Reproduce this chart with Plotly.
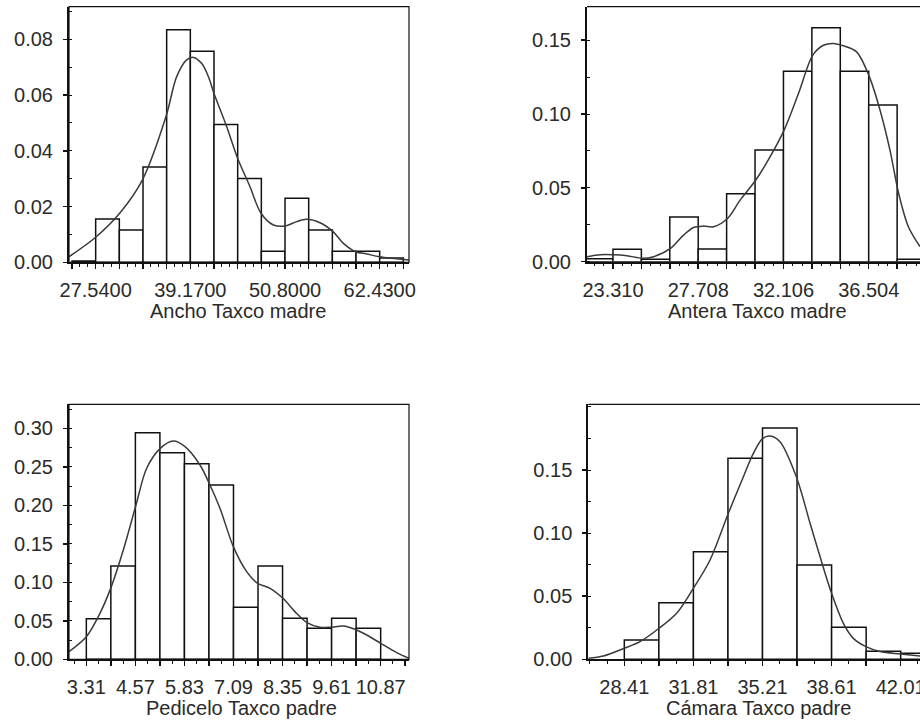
import plotly.graph_objects as go

W, H = 920, 721

# ---------------- data ----------------
# Panel 1: Ancho Taxco madre
anc_edge0 = 24.6325
anc_bw = 2.9075
anc_heights = [0.0005, 0.0155, 0.0116, 0.0342, 0.0834, 0.0757, 0.0494,
               0.0301, 0.0040, 0.0230, 0.0116, 0.0040, 0.0040, 0.0015]
anc_curve_x = [24.26, 27.54, 30.49, 33.27, 36.18, 37.49, 38.72, 39.54, 40.60,
               41.40, 42.08, 43.63, 44.90, 46.50, 47.85, 49.37, 50.80, 52.23,
               53.46, 55.10, 56.70, 57.97, 59.48, 60.83, 62.43, 66.03]
anc_curve_y = [0.0020, 0.0090, 0.0176, 0.0295, 0.0523, 0.0666, 0.0726, 0.0735,
               0.0712, 0.0665, 0.0606, 0.0487, 0.0379, 0.0271, 0.0176, 0.0134,
               0.0130, 0.0146, 0.0154, 0.0142, 0.0110, 0.0068, 0.0038, 0.0030,
               0.0020, 0.0008]
anc_tickvals = [27.54, 39.17, 50.80, 62.43]
anc_ticktext = ["27.5400", "39.1700", "50.8000", "62.4300"]
anc_yticks = [0.0, 0.02, 0.04, 0.06, 0.08]

# Panel 2: Antera Taxco madre
ant_edge0 = 21.844
ant_bw = 1.466
ant_heights = [0.0020, 0.0084, 0.0016, 0.0302, 0.0086, 0.0461, 0.0757,
               0.1289, 0.1584, 0.1289, 0.1061, 0.0016]
ant_curve_x = [21.97, 22.66, 23.31, 24.03, 24.84, 25.41, 26.28, 26.95, 27.47,
               27.98, 28.50, 29.22, 29.87, 30.68, 31.42, 32.14, 32.88, 33.62,
               34.17, 34.68, 35.20, 35.88, 36.54, 37.09, 37.60, 38.05, 38.55,
               39.15]
ant_curve_y = [0.0034, 0.0047, 0.0047, 0.0041, 0.0023, 0.0034, 0.0090, 0.0180,
               0.0232, 0.0241, 0.0237, 0.0293, 0.0417, 0.0553, 0.0711, 0.0891,
               0.1139, 0.1399, 0.1466, 0.1478, 0.1462, 0.1421, 0.1252, 0.1026,
               0.0756, 0.0462, 0.0237, 0.0102]
ant_tickvals = [23.310, 27.708, 32.106, 36.504]
ant_ticktext = ["23.310", "27.708", "32.106", "36.504"]
ant_yticks = [0.0, 0.05, 0.10, 0.15]

# Panel 3: Pedicelo Taxco padre
ped_edge0 = 3.31
ped_bw = 0.63
ped_heights = [0.0528, 0.1212, 0.2944, 0.2684, 0.2541, 0.2264, 0.0675,
               0.1212, 0.0532, 0.0403, 0.0532, 0.0403]
ped_curve_x = [2.865, 3.31, 3.66, 3.952, 4.26, 4.586, 4.86, 5.21, 5.545, 5.844,
               6.23, 6.486, 6.743, 7.086, 7.428, 7.71, 8.027, 8.361, 8.71,
               8.978, 9.312, 9.586, 9.911, 10.21, 10.51, 10.87, 11.28, 11.598]
ped_curve_y = [0.0100, 0.0294, 0.0597, 0.0944, 0.1420, 0.2004, 0.2481, 0.2740,
               0.2835, 0.2762, 0.2524, 0.2264, 0.1961, 0.1463, 0.1139, 0.0987,
               0.0922, 0.0792, 0.0597, 0.0476, 0.0416, 0.0416, 0.0433, 0.0390,
               0.0316, 0.0208, 0.0087, 0.0013]
ped_tickvals = [3.31, 4.57, 5.83, 7.09, 8.35, 9.61, 10.87]
ped_ticktext = ["3.31", "4.57", "5.83", "7.09", "8.35", "9.61", "10.87"]
ped_yticks = [0.0, 0.05, 0.10, 0.15, 0.20, 0.25, 0.30]

# Panel 4: Cámara Taxco padre
cam_edge0 = 28.41
cam_bw = 1.7
cam_heights = [0.0153, 0.0449, 0.0853, 0.1593, 0.1833, 0.0747, 0.0254,
               0.0063, 0.0047]
cam_curve_x = [26.64, 27.38, 28.41, 29.18, 30.12, 30.985, 31.81, 32.63, 33.53,
               34.27, 34.76, 35.22, 35.58, 36.07, 36.875, 37.55, 38.04, 38.61,
               39.19, 39.68, 40.30, 40.99, 42.01, 42.96]
cam_curve_y = [0.0008, 0.0026, 0.0087, 0.0140, 0.0246, 0.0365, 0.0563, 0.0787,
               0.1157, 0.1447, 0.1632, 0.1751, 0.1770, 0.1725, 0.1447, 0.1078,
               0.0814, 0.0523, 0.0285, 0.0166, 0.0100, 0.0061, 0.0042, 0.0026]
cam_tickvals = [28.41, 31.81, 35.21, 38.61, 42.01]
cam_ticktext = ["28.41", "31.81", "35.21", "38.61", "42.01"]
cam_yticks = [0.0, 0.05, 0.10, 0.15]

titles = ["Ancho Taxco madre", "Antera Taxco madre",
          "Pedicelo Taxco padre", "Cámara Taxco padre"]

# ---------------- layout geometry (pixels) ----------------
panels = [
    dict(edge0=anc_edge0, bw=anc_bw, h=anc_heights, cx=anc_curve_x, cy=anc_curve_y,
         tv=anc_tickvals, tt=anc_ticktext, yt=anc_yticks, xr=[24.264, 66.03],
         yr=[0, 0.0917], ymin=0.01, xpx=(69, 409), ypx=(6.7, 262.3), nminor=3,
         full=True, title_xy=(238.5, 311)),
    dict(edge0=ant_edge0, bw=ant_bw, h=ant_heights, cx=ant_curve_x, cy=ant_curve_y,
         tv=ant_tickvals, tt=ant_ticktext, yt=ant_yticks, xr=[21.971, 39.15],
         yr=[0, 0.1727], ymin=0.025, xpx=(587, 920), ypx=(6.7, 261.7), nminor=3,
         full=False, title_xy=(757.5, 311)),
    dict(edge0=ped_edge0, bw=ped_bw, h=ped_heights, cx=ped_curve_x, cy=ped_curve_y,
         tv=ped_tickvals, tt=ped_ticktext, yt=ped_yticks, xr=[2.865, 11.598],
         yr=[0, 0.3312], ymin=0.025, xpx=(69, 409), ypx=(404.3, 659.3), nminor=2,
         full=True, title_xy=(241.5, 708)),
    dict(edge0=cam_edge0, bw=cam_bw, h=cam_heights, cx=cam_curve_x, cy=cam_curve_y,
         tv=cam_tickvals, tt=cam_ticktext, yt=cam_yticks, xr=[26.638, 42.96],
         yr=[0, 0.2021], ymin=0.025, xpx=(588.3, 920), ypx=(404.3, 659.3), nminor=2,
         full=False, title_xy=(758.3, 708)),
]

FONT = "Arial, Liberation Sans, Helvetica, sans-serif"
TXT = "#2a2a2a"

fig = go.Figure()
layout = dict(width=W, height=H, margin=dict(l=0, r=0, t=0, b=0),
              paper_bgcolor="white", plot_bgcolor="white", showlegend=False,
              font=dict(family=FONT, size=20, color=TXT))
shapes = []
annotations = []

for i, p in enumerate(panels):
    n = i + 1
    xa = "x" if n == 1 else f"x{n}"
    ya = "y" if n == 1 else f"y{n}"
    nb = len(p["h"])
    centers = [p["edge0"] + p["bw"] * (k + 0.5) for k in range(nb)]
    edges = [p["edge0"] + p["bw"] * k for k in range(nb + 2)]
    fig.add_trace(go.Bar(x=centers, y=p["h"], width=p["bw"],
                         marker=dict(color="white", line=dict(color="#111", width=1.5)),
                         xaxis=xa, yaxis=ya, hoverinfo="skip"))
    fig.add_trace(go.Scatter(x=p["cx"], y=p["cy"], mode="lines",
                             line=dict(color="#3a3a3a", width=1.5, shape="spline", smoothing=0.9),
                             xaxis=xa, yaxis=ya, hoverinfo="skip"))
    tickvals, ticktext = [], []
    for e in edges:
        if p["xr"][0] <= e <= p["xr"][1]:
            tickvals.append(e)
            lab = ""
            for v, t in zip(p["tv"], p["tt"]):
                if abs(v - e) < 1e-3:
                    lab = t
            ticktext.append(lab)
    x0, x1 = p["xpx"]
    yt, yb = p["ypx"]
    xdom = [x0 / W, x1 / W]
    ydom = [1 - yb / H, 1 - yt / H]
    xkey = "xaxis" if n == 1 else f"xaxis{n}"
    ykey = "yaxis" if n == 1 else f"yaxis{n}"
    layout[xkey] = dict(domain=xdom, range=p["xr"], anchor=ya, tickmode="array",
                        tickvals=tickvals, ticktext=ticktext, ticks="outside",
                        ticklen=5, tickwidth=1.5, tickcolor="#111",
                        showline=True, linewidth=2, linecolor="#111",
                        showgrid=False, zeroline=False, automargin=False,
                        ticklabeloverflow="allow",
                        tickfont=dict(family=FONT, size=20, color=TXT),
                        ticklabelstandoff=4,
                        minor=dict(ticks="outside", ticklen=2.5, tickwidth=1,
                                   tickcolor="#111", tick0=p["edge0"],
                                   dtick=p["bw"] / p["nminor"], showgrid=False))
    layout[ykey] = dict(domain=ydom, range=p["yr"], anchor=xa, tickmode="array",
                        tickvals=p["yt"], ticktext=[f"{v:.2f}" for v in p["yt"]],
                        ticks="outside",
                        ticklen=4, tickwidth=1.5, tickcolor="#111",
                        showline=True, linewidth=2, linecolor="#111",
                        showgrid=False, zeroline=False, automargin=False,
                        tickfont=dict(family=FONT, size=20, color=TXT),
                        ticklabelstandoff=6,
                        minor=dict(ticks="inside", ticklen=3, tickwidth=1,
                                   tickcolor="#111", tick0=0, dtick=p["ymin"],
                                   showgrid=False))
    xd = f"{xa} domain"
    yd = f"{ya} domain"
    if p["full"]:
        shapes.append(dict(type="rect", xref=xd, yref=yd, x0=0, x1=1, y0=0, y1=1,
                           line=dict(color="#111", width=1.2), layer="above"))
    else:
        shapes.append(dict(type="line", xref=xd, yref=yd, x0=0, x1=1, y0=1, y1=1,
                           line=dict(color="#111", width=1.2), layer="above"))
    tx, ty = p["title_xy"]
    annotations.append(dict(text=titles[i], xref="paper", yref="paper",
                            x=tx / W, y=1 - ty / H, xanchor="center", yanchor="middle",
                            showarrow=False, font=dict(family=FONT, size=20, color=TXT)))

layout["shapes"] = shapes
layout["annotations"] = annotations
fig.update_layout(**layout)
fig.write_html("out.html",
               config={"displayModeBar": False, "staticPlot": True},
               post_script="document.body.style.margin='0px';document.body.style.overflow='hidden';")
